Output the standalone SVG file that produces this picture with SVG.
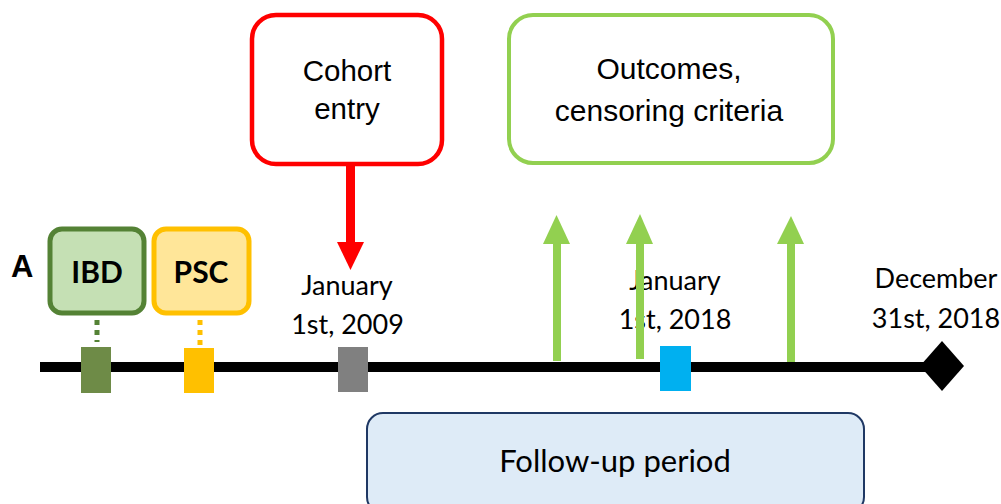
<svg xmlns="http://www.w3.org/2000/svg" width="1001" height="504" viewBox="0 0 1001 504">
<style>
.cal{font-family:Lato,"Open Sans","Liberation Sans",sans-serif;fill:#000}
.ari{font-family:"Liberation Sans",Arial,sans-serif;fill:#000}
.ctr{text-anchor:middle}
</style>
<rect width="1001" height="504" fill="#fff"/>
<g id="timeline">
<line x1="40" y1="367" x2="935" y2="367" stroke="#000" stroke-width="10"/>
<polygon points="942,341 964,366 942,391 920,366" fill="#000"/>
</g>
<g id="label-A"><text class="ari" x="11" y="277" font-size="31" font-weight="bold">A</text></g>
<g id="ibd">
<rect x="50" y="229" width="94" height="84" rx="12" fill="#C5E0B4" stroke="#548235" stroke-width="5"/>
<text class="cal ctr" x="97" y="283" font-size="30" font-weight="bold">IBD</text>
</g>
<g id="psc">
<rect x="154" y="229" width="95" height="84" rx="12" fill="#FFE699" stroke="#FFC000" stroke-width="5"/>
<text class="cal ctr" x="201" y="283" font-size="30" font-weight="bold">PSC</text>
</g>
<g id="marker-ibd"><rect x="81" y="347" width="30" height="46" fill="#6E8B47"/></g>
<g id="marker-psc"><rect x="184" y="348" width="30" height="45" fill="#FFC000"/></g>
<g id="marker-2009"><rect x="338" y="347" width="30" height="45" fill="#808080"/></g>
<g id="marker-2018"><rect x="660" y="346" width="31" height="45" fill="#00B0F0"/></g>
<g id="cohort">
<rect x="252" y="15" width="190" height="149" rx="24" fill="#fff" stroke="#FF0000" stroke-width="4.5"/>
<text class="ari ctr" x="347" y="81" font-size="29.5">Cohort</text>
<text class="ari ctr" x="347" y="119" font-size="29.5">entry</text>
</g>
<g id="outcomes">
<rect x="509" y="15" width="324" height="148" rx="24" fill="#fff" stroke="#92D050" stroke-width="4"/>
<text class="ari ctr" x="669" y="79" font-size="30">Outcomes,</text>
<text class="ari ctr" x="669" y="121" font-size="30">censoring criteria</text>
</g>
<g id="date-2009">
<text class="cal ctr" x="347" y="295" font-size="27">January</text>
<text class="cal ctr" x="347.5" y="334" font-size="27">1st, 2009</text>
</g>
<g id="date-2018">
<text class="cal ctr" x="675" y="290" font-size="27">January</text>
<text class="cal ctr" x="675" y="329" font-size="27">1st, 2018</text>
</g>
<g id="date-end">
<text class="cal ctr" x="936" y="288" font-size="27">December</text>
<text class="cal ctr" x="936" y="328" font-size="27">31st, 2018</text>
</g>
<g id="followup">
<rect x="367" y="413" width="497" height="100" rx="16" fill="#DEEBF7" stroke="#1F3864" stroke-width="2"/>
<text class="cal ctr" x="615" y="472" font-size="31">Follow-up period</text>
</g>
<g id="connectors">
<line x1="97" y1="320" x2="97" y2="342" stroke="#548235" stroke-width="5" stroke-dasharray="5,5"/>
<line x1="200" y1="320" x2="200" y2="348" stroke="#FFC000" stroke-width="5" stroke-dasharray="5,5"/>
<rect x="346" y="164" width="9" height="79" fill="#FF0000"/>
<polygon points="337,242 364,242 350.5,270" fill="#FF0000"/>
<rect x="553" y="243" width="8" height="118" fill="#92D050"/>
<polygon points="543,244 570,244 556.5,215" fill="#92D050"/>
<rect x="636" y="243" width="8" height="116" fill="#92D050"/>
<polygon points="626,244 653,244 640,214" fill="#92D050"/>
<rect x="787" y="243" width="8" height="119" fill="#92D050"/>
<polygon points="777,244 804,244 791,216" fill="#92D050"/>
</g>
</svg>
